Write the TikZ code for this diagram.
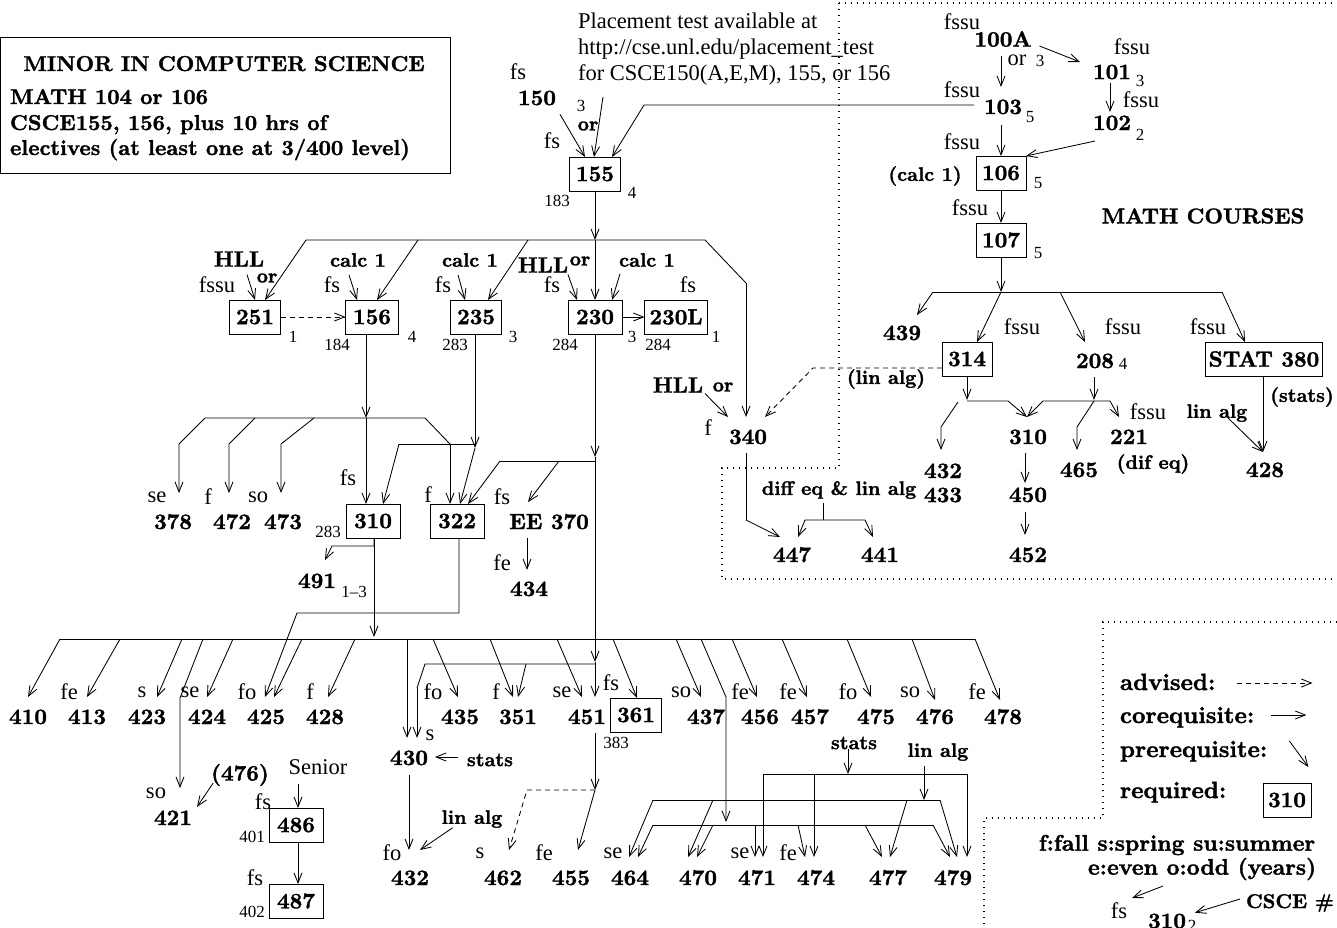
\documentclass[tikz,border=0pt]{standalone}
\usepackage{fontspec}
\newfontfamily\lib{Liberation Serif}
\newfontfamily\hb{lmroman10-bold.otf}[FakeBold=1.5]
\usetikzlibrary{arrows.meta,calc}
\begin{document}
\begin{tikzpicture}[x=1pt,y=-1pt,
  every node/.style={inner sep=0pt,outer sep=0pt},
  tB/.style={font=\fontsize{22}{24}\selectfont\hb},
  tMB/.style={font=\fontsize{21.5}{24}\selectfont\hb},
  tLG/.style={font=\fontsize{23.5}{26}\selectfont\hb},
  tLF/.style={font=\fontsize{22.5}{25}\selectfont\hb},
  tL/.style={font=\fontsize{22.5}{24}\selectfont\lib},
  tS/.style={font=\fontsize{17}{18}\selectfont\lib},
  tSB/.style={font=\fontsize{19.5}{21}\selectfont\hb},
  cn/.style={tB,anchor=base,text height=#1pt},
  cbox/.style={tB,draw,line width=0.9pt,minimum width=52pt,minimum height=34pt},
  ln/.style={line width=0.85pt},
  arr/.style={ln,-{Straight Barb[length=10pt,width=8pt]}},
  adv/.style={arr,dash pattern=on 5pt off 4pt},
  dotb/.style={line width=1.1pt,dash pattern=on 1.1pt off 4.9pt},
]
\useasboundingbox (0,0) rectangle (1337,927);

% ---------- minor box
\node[draw,line width=0.9pt,anchor=north west,minimum width=450pt,minimum height=136pt] (minor) at (0,37) {};
\node[tMB,anchor=base] (mt) at (224,71) {MINOR IN COMPUTER SCIENCE};
\node[tMB,anchor=base west] (mn1) at (10,104) {MATH 104 or 106};
\node[tMB,anchor=base west] (mn2) at (10,130) {CSCE155, 156, plus 10 hrs of};
\node[tMB,anchor=base west] (mn3) at (10,155) {electives (at least one at 3/400 level)};

% ---------- placement
\node[tL,anchor=base west] (pl1) at (578,28) {Placement test available at};
\node[tL,anchor=base west] (pl2) at (578,54) {http://cse.unl.edu/placement\_test};
\node[tL,anchor=base west] (pl3) at (578,80) {for CSCE150(A,E,M), 155, or 156};

% ---------- 150 / 155
\node[tL] (fs150a) at (518,72) {fs};
\node[tB] (n150) at (537,98) {150};
\node[tS] (h150) at (581,106) {3};
\node[tSB] (or150) at (588,126) {or};
\node[tL] (fs155) at (552,141) {fs};
\node[cbox,minimum width=51pt] (n155) at (595,174) {155};
\node[tS] (h155) at (632,193) {4};
\node[tS] (k155) at (557,201) {183};
\draw[arr] ($(n150.south east)+(4,9)$) -- ([xshift=-10pt]n155.north);
\draw[arr] ($(pl3.base west)+(25,17)$) -- ([xshift=-1pt]n155.north);

% ---------- row 1 boxes
\node[cbox,minimum width=51pt] (n251) at (255,317) {251};
\node[cbox,minimum width=53pt] (n156) at (372,317) {156};
\node[cbox,minimum width=51pt] (n235) at (476,317) {235};
\node[cbox,minimum width=54pt] (n230) at (595,317) {230};
\node[cbox,minimum width=63pt] (n230L) at (676,317) {230L};

\node[tB] (hll1) at (239,259) {HLL};
\node[tSB] (or251) at (267,278) {or};
\node[tL] (fs251) at (217,285) {fssu};
\node[tS] (h251) at (293,337) {1};
\node[tSB] (calc1a) at (358,260) {calc 1};
\node[tL] (fs156) at (332,285) {fs};
\node[tS] (h156) at (412,337) {4};
\node[tS] (k156) at (337,345) {184};
\node[tSB] (calc1b) at (470,260) {calc 1};
\node[tL] (fs235) at (443,285) {fs};
\node[tS] (h235) at (513,337) {3};
\node[tS] (k235) at (455,345) {283};
\node[tB] (hll2) at (543,265) {HLL};
\node[tSB] (or230) at (580,261) {or};
\node[tL] (fs230) at (552,285) {fs};
\node[tSB] (calc1c) at (647,260) {calc 1};
\node[tS] (h230) at (632,337) {3};
\node[tS] (k230) at (565,345) {284};
\node[tL] (fs230L) at (688,285) {fs};
\node[tS] (h230L) at (716,337) {1};
\node[tS] (k230L) at (658,345) {284};

\draw[arr] ($(hll1.south)+(8,8)$) -- (n251.north);
\draw[adv] (n251.east) -- (n156.west);
\draw[arr] ($(calc1a.south)+(-9,8)$) -- ([xshift=-15pt]n156.north);
\draw[arr] ($(calc1b.south)+(-12,8)$) -- ([xshift=-11pt]n235.north);
\draw[arr] ($(hll2.south)+(25,2)$) -- ([xshift=-18pt]n230.north);
\draw[arr] ($(calc1c.south)+(-27,7)$) -- ([xshift=17pt]n230.north);
\draw[arr] (n230.east) -- (n230L.west);

% ---------- 340
\node[tB] (hll3) at (678,385) {HLL};
\node[tSB] (or340) at (723,387) {or};
\node[tL] (f340) at (708,428) {f};
\node[cn=27] (n340) at (748,444) {340};
\node[cn=25] (n447) at (792,562) {447};
\node[cn=25] (n441) at (880,562) {441};
\node[tSB] (dq) at (839,490) {diff eq \& lin alg};

% ---------- bus from 155
\coordinate (b1a) at (306,240);
\coordinate (b1b) at (418,240);
\coordinate (b1c) at (528,240);
\coordinate (b1m) at (595,240);
\coordinate (b1d) at (705,240);
\coordinate (b1e) at (746,283);
\draw[arr] (n155.south) -- (b1m);
\draw[ln] (b1a) -- (b1d) -- (b1e);
\draw[arr] (b1a) -- ([xshift=10pt]n251.north);
\draw[arr] (b1b) -- ([xshift=5pt]n156.north);
\draw[arr] (b1c) -- ([xshift=12pt]n235.north);
\draw[arr] (b1m) -- (n230.north);
\draw[arr] (b1e) -- ([xshift=-2pt]n340.north);
\draw[arr] ($(hll3.south)+(27,1)$) -- ([xshift=-20pt]n340.north);
\draw[ln] ($(n340.base)+(-2,9)$) -- (746,520);
\draw[arr] (746,520) -- ([xshift=-12pt]n447.north);
\draw[ln] ($(dq.south)+(-16,4)$) -- (823,520);
\draw[arr] (823,520) -- (805,520) -- ([xshift=6pt]n447.north);
\draw[arr] (823,520) -- (865,520) -- ([xshift=-7pt]n441.north);

% ---------- 310 / 322 region
\node[cbox,minimum width=54pt] (n310) at (373,521) {310};
\node[cbox,minimum width=54pt] (n322) at (457,521) {322};
\node[cn=36] (n378) at (173,529) {378};
\node[cn=36] (n472) at (232,529) {472};
\node[cn=36] (n473) at (283,529) {473};
\node[tL] (se378) at (157,497) {se};
\node[tL] (f472) at (208,497) {f};
\node[tL] (so473) at (258,497) {so};
\node[tL] (fs310) at (348,478) {fs};
\node[tL] (f322) at (428,495) {f};
\node[tS] (k310) at (328,532) {283};
\node[tL] (fsEE) at (502,497) {fs};
\node[cn=27] (nEE) at (549,529) {EE 370};
\node[tL] (fe434) at (502,563) {fe};
\node[cn=26] (n434) at (529,596) {434};
\node[cn=28] (n491) at (317,588) {491};
\node[tS] (h491) at (354,592) {1\textendash 3};

\coordinate (b2a) at (205,418);
\coordinate (b2b) at (255,418);
\coordinate (b2c) at (314,418);
\coordinate (b2m) at (366,418);
\coordinate (b2d) at (425,418);
\coordinate (b2e) at (450,444);
\draw[arr] ([xshift=-6pt]n156.south) -- (b2m);
\draw[arr] (b2m) -- ([xshift=-7pt]n310.north);
\draw[ln] (b2a) -- (b2d) -- (b2e);
\draw[arr] (b2e) -- ([xshift=-7pt]n322.north);
\draw[arr] (b2a) -- (179,444) -- ([xshift=6pt]n378.north);
\draw[arr] (b2b) -- (229,444) -- ([xshift=-3pt]n472.north);
\draw[arr] (b2c) -- (281,444) -- ([xshift=-2pt]n473.north);

\coordinate (b3l) at (399,444);
\coordinate (b3r) at (475,448);
\draw[arr] ([xshift=-1pt]n235.south) -- (b3r);
\draw[ln] (b3l) -- (475,444);
\draw[arr] (b3l) -- ([xshift=10pt]n310.north);
\draw[arr] (b3r) -- ([xshift=3pt]n322.north);

\coordinate (b4m) at (595,457);
\coordinate (b4l) at (500,461);
\coordinate (b4e) at (559,461);
\draw[arr] (n230.south) -- (b4m);
\draw[ln] (b4l) -- (595,461);
\draw[arr] (b4l) -- ([xshift=11pt]n322.north);
\draw[arr] (b4e) -- ([xshift=-21pt]nEE.north);
\draw[arr] ($(nEE.base)+(-22,9)$) -- ([xshift=-2pt]n434.north);

\draw[arr] ([xshift=1pt]n310.south) |- (332,546) -- ([xshift=8pt]n491.north);
\draw[arr] ([xshift=1pt]n310.south) -- (374,637);

% ---------- bottom row
\node[cn=27] (n410) at (28,724) {410};
\node[cn=27] (n413) at (87,724) {413};
\node[cn=27] (n423) at (147,724) {423};
\node[cn=27] (n424) at (207,724) {424};
\node[cn=27] (n425) at (266,724) {425};
\node[cn=27] (n428) at (325,724) {428};
\node[cn=27] (n435) at (460,724) {435};
\node[cn=27] (n351) at (518,724) {351};
\node[cn=27] (n451) at (587,724) {451};
\node[cbox,minimum width=51pt] (n361) at (636,715) {361};
\node[cn=27] (n437) at (706,724) {437};
\node[cn=27] (n456) at (760,724) {456};
\node[cn=27] (n457) at (810,724) {457};
\node[cn=27] (n475) at (876,724) {475};
\node[cn=24] (n476) at (935,724) {476};
\node[cn=24] (n478) at (1003,724) {478};
\node[tL] (s413) at (69,692) {fe};
\node[tL] (s423) at (142,692) {s};
\node[tL] (s424) at (190,692) {se};
\node[tL] (s425) at (247,692) {fo};
\node[tL] (s428) at (310,692) {f};
\node[tL] (s435) at (433,692) {fo};
\node[tL] (s351) at (496,692) {f};
\node[tL] (s451) at (562,692) {se};
\node[tL] (s361) at (611,683) {fs};
\node[tS] (k361) at (616,743) {383};
\node[tL] (s437) at (681,692) {so};
\node[tL] (s456) at (740,692) {fe};
\node[tL] (s457) at (788,692) {fe};
\node[tL] (s475) at (848,692) {fo};
\node[tL] (s476) at (910,692) {so};
\node[tL] (s478) at (977,692) {fe};

\draw[arr] ([xshift=2pt]n322.south) |- (297,613) -- ([xshift=-1pt]n425.north);
\draw[ln] (60,639) -- (975,639);
\draw[arr] (60,639) -- (n410.north);
\draw[arr] (120,639) -- (n413.north);
\draw[arr] (182,639) -- ([xshift=10pt]n423.north);
\draw[arr] (233,639) -- (n424.north);
\draw[arr] (302,639) -- ([xshift=8pt]n425.north);
\draw[arr] (355,639) -- ([xshift=3pt]n428.north);
\draw[arr] (433,639) -- ([xshift=-2pt]n435.north);
\draw[arr] (490,639) -- ([xshift=-5pt]n351.north);
\draw[arr] (557,639) -- ([xshift=-5pt]n451.north);
\draw[arr] (613,639) -- ([xshift=1pt]n361.north);
\draw[arr] (676,639) -- ([xshift=-5pt]n437.north);
\draw[arr] (732,639) -- ([xshift=-3pt]n456.north);
\draw[arr] (782,639) -- ([xshift=-3pt]n457.north);
\draw[arr] (847,639) -- ([xshift=-5pt]n475.north);
\draw[arr] (912,639) -- (n476.north);
\draw[arr] (975,639) -- ([xshift=-3pt]n478.north);

% main vertical to 451 / 430
\coordinate (b5m) at (595,662);
\coordinate (b5h) at (595,664);
\draw[arr] (b4m) -- (b5m);
\draw[arr] (b5m) -- ([xshift=8pt]n451.north);
\draw[ln] (b5h) -- (425,664) -- (417,688);

% ---------- 421, 486, 487
\node[cn=37] (n421) at (173,825) {421};
\node[tL] (so421) at (156,793) {so};
\node[tB] (p476) at (240,775) {(476)};
\draw[arr] (203,639) -- (180,698) -- ([xshift=7pt]n421.north);
\draw[arr] ($(p476.west)+(2,8)$) -- ($(n421.base east)+(5,-18)$);
\node[tL] (sen) at (318,767) {Senior};
\node[cbox,minimum width=54pt] (n486) at (296,825) {486};
\node[tL] (fs486) at (263,802) {fs};
\node[tS] (h401) at (252,837) {401};
\node[cbox,minimum width=54pt] (n487) at (296,901) {487};
\node[tL] (fs487) at (255,878) {fs};
\node[tS] (h402) at (252,912) {402};
\draw[arr] ($(sen.south)+(-20,9)$) -- ([xshift=2pt]n486.north);
\draw[arr] ([xshift=2pt]n486.south) -- ([xshift=2pt]n487.north);

% ---------- 430 / 432
\node[cn=27] (n430) at (409,765) {430};
\node[tL] (s430) at (430,735) {s};
\node[tSB] (st430) at (490,760) {stats};
\node[cn=35] (n432) at (410,885) {432};
\node[tL] (fo432) at (392,853) {fo};
\node[tSB] (la432) at (472,819) {lin alg};
\draw[arr] (407,639) -- ([xshift=-2pt]n430.north);
\draw[arr] (417,688) -- ([xshift=8pt]n430.north);
\draw[arr] (526,664) -- (n351.north);
\draw[arr] ($(st430.west)+(-9,-3)$) -- ++(-23,0);
\draw[arr] ($(n430.base)+(0,10)$) -- ([xshift=-1pt]n432.north);
\draw[arr] ($(la432.south west)+(11,0)$) -- ([xshift=10pt]n432.north);

% ---------- 451 -> 455 / 462
\node[cn=35] (n462) at (503,885) {462};
\node[tL] (s462) at (480,853) {s};
\node[cn=35] (n455) at (571,885) {455};
\node[tL] (fe455) at (544,853) {fe};
\coordinate (b6) at (595,790);
\draw[arr] ($(n451.base)+(8,9)$) -- (b6);
\draw[arr] (b6) -- ([xshift=7pt]n455.north);
\draw[adv] (b6) -- (527,790) -- ([xshift=6pt]n462.north);

% ---------- 464 - 479
\node[cn=28] (n464) at (630,885) {464};
\node[cn=28] (n470) at (698,885) {470};
\node[cn=28] (n471) at (757,885) {471};
\node[cn=28] (n474) at (816,885) {474};
\node[cn=28] (n477) at (888,885) {477};
\node[cn=28] (n479) at (953,885) {479};
\node[tL] (se464) at (613,853) {se};
\node[tL] (se471) at (740,853) {se};
\node[tL] (fe474) at (788,853) {fe};
\node[tSB] (st474) at (854,743) {stats};
\node[tSB] (la479) at (938,752) {lin alg};
\draw[arr] (701,639) -- (726,697) -- (726,822);
\draw[ln] (653,825) -- (933,825);
\draw[ln] (653,800) -- (940,800);
\draw[ln] (763,774) -- (967,774);
\draw[arr] ([xshift=-6pt]st474.south) -- (848,774);
\draw[arr] ($(la479.south)+(-14,5)$) -- (924,800);
\draw[arr] (653,825) -- ([xshift=8pt]n464.north);
\draw[arr] (653,800) -- ([xshift=-1pt]n464.north);
\draw[arr] (713,825) -- ([xshift=-1pt]n470.north);
\draw[arr] (713,800) -- ([xshift=-10pt]n470.north);
\draw[arr] (755,825) -- ([xshift=-2pt]n471.north);
\draw[arr] (763,774) -- ([xshift=6pt]n471.north);
\draw[arr] (798,825) -- ([xshift=-11pt]n474.north);
\draw[arr] (814,774) -- ([xshift=-2pt]n474.north);
\draw[arr] (865,825) -- ([xshift=-6pt]n477.north);
\draw[arr] (907,800) -- ([xshift=2pt]n477.north);
\draw[arr] (933,825) -- ([xshift=-3pt]n479.north);
\draw[arr] (940,800) -- ([xshift=4pt]n479.north);
\draw[arr] (967,774) -- ([xshift=14pt]n479.north);

% ---------- math courses
\node[tL] (fsA) at (962,22) {fssu};
\node[tB] (n100A) at (1003,39) {100A};
\node[tL] (orA) at (1017,60) {or};
\node[tS] (hA) at (1040,61) {3};
\node[cn=27] (n103) at (1003,114) {103};
\node[tL] (fs103) at (962,90) {fssu};
\node[tS] (h103) at (1030,117) {5};
\node[tB] (n101) at (1112,72) {101};
\node[tL] (fs101) at (1132,47) {fssu};
\node[tS] (h101) at (1140,81) {3};
\node[tL] (fs102) at (1141,100) {fssu};
\node[cn=18] (n102) at (1112,130) {102};
\node[tS] (h102) at (1140,135) {2};
\node[cbox,minimum width=50pt] (n106) at (1001,173) {106};
\node[tL] (fs106) at (962,142) {fssu};
\node[tS] (h106) at (1038,183) {5};
\node[tSB] (calcp) at (925,176) {(calc 1)};
\node[cbox,minimum width=50pt] (n107) at (1001,240) {107};
\node[tL] (fs107) at (970,208) {fssu};
\node[tS] (h107) at (1038,253) {5};
\node[tMB] (mc) at (1203,216) {MATH COURSES};

\draw[arr] ($(n100A.south)+(-2,9)$) -- ([xshift=-2pt]n103.north);
\draw[arr] ($(n100A.east)+(8,7)$) -- ($(n101.west)+(-13,-10)$);
\draw[arr] ($(n101.base)+(-2,4)$) -- ([xshift=-2pt]n102.north);
\draw[arr] ($(n103.base west)+(-10,-9)$) -- (644,105) -- ([xshift=17pt]n155.north);
\draw[arr] ($(n103.base)+(-2,11)$) -- (n106.north);
\draw[arr] ($(n102.base)+(-17,11)$) -- (n106.north east);
\draw[arr] (n106.south) -- (n107.north);

\node[cn=25] (n439) at (902,340) {439};
\node[cbox,minimum width=50pt] (n314) at (967,359) {314};
\node[cn=26] (n208) at (1095,368) {208};
\node[tS] (h208) at (1123,364) {4};
\node[cbox,minimum width=117pt] (nstat) at (1264,359) {STAT 380};
\node[tL] (fs314) at (1022,327) {fssu};
\node[tL] (fs208) at (1123,327) {fssu};
\node[tL] (fsst) at (1208,327) {fssu};
\node[tSB] (lap) at (886,379) {(lin alg)};
\node[tSB] (stp) at (1302,397) {(stats)};
\node[cn=27] (n310m) at (1028,444) {310};
\node[cn=27] (n221) at (1129,444) {221};
\node[tL] (fs221) at (1148,412) {fssu};
\node[cn=27] (n465) at (1079,477) {465};
\node[tSB] (dfq) at (1153,464) {(dif eq)};
\node[cn=28] (n432m) at (943,478) {432};
\node[tB] (n433m) at (943,495) {433};
\node[cn=19] (n450) at (1028,502) {450};
\node[cn=27] (n452) at (1028,562) {452};
\node[cn=25] (n428m) at (1265,477) {428};
\node[tSB] (lam) at (1217,413) {lin alg};

\coordinate (mbm) at (1001,292);
\draw[arr] (n107.south) -- (mbm);
\draw[ln] (933,292) -- (1222,292);
\draw[arr] (933,292) -- ([xshift=15pt]n439.north);
\draw[arr] (mbm) -- ([xshift=10pt]n314.north);
\draw[arr] (1060,292) -- ([xshift=-10pt]n208.north);
\draw[arr] (1222,292) -- ([xshift=-19pt]nstat.north);
\draw[arr] (n314.south) -- (967,400);
\draw[arr] (967,401) -- (1008,401) -- ([xshift=-1pt]n310m.north);
\draw[arr] ($(n208.base)+(-1,9)$) -- (1094,400);
\draw[arr] (1094,401) -- (1043,401) -- ([xshift=-1pt]n310m.north);
\draw[arr] (1094,401) -- (1110,401) -- ([xshift=-10pt]n221.north);
\draw[arr] (1094,401) -- (1077,427) -- ([xshift=-2pt]n465.north);
\draw[arr] (958,402) -- (941,427) -- ([xshift=-2pt]n432m.north);
\draw[arr] ($(n310m.base)+(-3,9)$) -- ([xshift=-3pt]n450.north);
\draw[arr] ($(n450.base)+(-3,10)$) -- ([xshift=-3pt]n452.north);
\draw[arr] ([xshift=-1pt]nstat.south) -- ([xshift=-2pt]n428m.north);
\draw[arr] ($(lam.center)+(11,5)$) -- ([xshift=-2pt]n428m.north);
\draw[adv] ($(n314.west)+(0,9)$) -- (813,368) -- ([xshift=17pt]n340.north);

% ---------- dotted regions
\draw[dotb] (839,3) -- (1337,3);
\draw[dotb] (839,3) -- (839,468) -- (722,468) -- (722,579) -- (1337,579);
\draw[dotb] (1337,622) -- (1103,622) -- (1103,818) -- (984,818) -- (984,927);

% ---------- legend
\node[tLG,anchor=base west] (lgA) at (1120,690) {advised:};
\node[tLG,anchor=base west] (lgC) at (1120,723) {corequisite:};
\node[tLG,anchor=base west] (lgP) at (1120,757) {prerequisite:};
\node[tLG,anchor=base west] (lgR) at (1120,798) {required:};
\node[cbox,minimum width=48pt] (n310L) at (1287,800) {310};
\draw[adv] ($(lgA.base east)+(21,-7)$) -- ++(76,0);
\draw[arr] ($(lgC.base east)+(17,-8)$) -- ++(35,0);
\draw[arr] ($(lgP.base east)+(22,-16)$) -- ++(19,26);
\node[tLF] (lgF) at (1177,845) {f:fall s:spring su:summer};
\node[tLF] (lgE) at (1202,869) {e:even o:odd (years)};
\node[tL] (fsK) at (1119,911) {fs};
\node[tB] (n310K) at (1167,921) {310};
\node[tS] (h310K) at (1192,926) {2};
\node[font=\fontsize{20}{22}\selectfont\hb] (csce) at (1290,903) {CSCE \#};
\draw[arr] ($(fsK.north east)+(36,-17)$) -- ($(fsK.north east)+(5,-5)$);
\draw[arr] ($(csce.west)+(-6,-4)$) -- ($(n310K.north east)+(9,-1)$);
\end{tikzpicture}
\end{document}
